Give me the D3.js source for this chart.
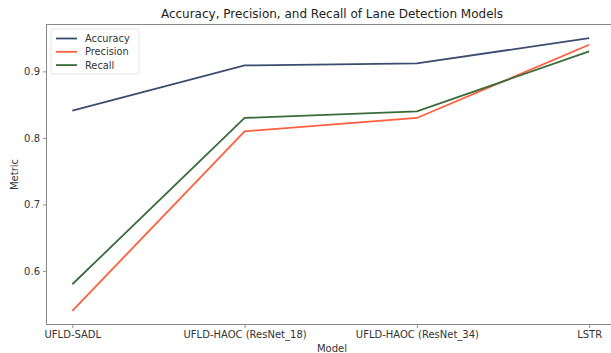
<!DOCTYPE html>
<html><head><meta charset="utf-8">
<script src="https://cdn.jsdelivr.net/npm/d3@7"></script>
<style>body{margin:0;background:#fff;}svg{display:block;font-family:"DejaVu Sans",sans-serif;}</style>
</head><body><svg id="c" width="611" height="353"></svg>
<script>
const models = ["UFLD-SADL", "UFLD-HAOC (ResNet_18)", "UFLD-HAOC (ResNet_34)", "LSTR"];
const accuracy = [0.841, 0.909, 0.912, 0.950];
const precision = [0.54, 0.81, 0.83, 0.94];
const recall = [0.58, 0.83, 0.84, 0.93];
const yTicks = [0.6, 0.7, 0.8, 0.9];
const seriesNames = ["Accuracy", "Precision", "Recall"];
const seriesColors = ["#3b4d6e", "#ff5f3f", "#3a6b3a"];
const seriesData = [accuracy, precision, recall];

const svg = d3.select("#c");
const L = 46.5, R = 615, T = 24.5, B = 324.5;
const m = 0.05 * (R - L) / 1.1;
const x = d3.scalePoint().domain(models).range([L + m, R - m]).padding(0);
const all = [].concat(accuracy, precision, recall);
const mn = d3.min(all), mx = d3.max(all), pad = (mx - mn) * 0.05;
const y = d3.scaleLinear().domain([mn - pad, mx + pad]).range([B, T]);

const xa = svg.append("g").attr("transform", `translate(0,${B})`)
  .call(d3.axisBottom(x).tickSize(3.5).tickPadding(3));
const ya = svg.append("g").attr("transform", `translate(${L},0)`)
  .call(d3.axisLeft(y).tickValues(yTicks).tickFormat(d3.format(".1f")).tickSize(3.5).tickPadding(3));
[xa, ya].forEach(a => {
  a.select(".domain").remove();
  a.selectAll("line").attr("stroke", "#777").attr("stroke-width", 0.8);
  a.selectAll("text").attr("fill", "#333").style("font-size", "10px").style("font-family", "DejaVu Sans");
});

svg.append("rect").attr("x", L).attr("y", T).attr("width", R - L).attr("height", B - T)
  .attr("fill", "none").attr("stroke", "#888").attr("stroke-width", 1);

const line = d3.line().x((d, i) => x(models[i])).y(d => y(d));
seriesData.forEach((s, k) => {
  svg.append("path").datum(s).attr("d", line).attr("fill", "none")
    .attr("stroke", seriesColors[k]).attr("stroke-width", 1.8);
});

svg.append("text").attr("x", 332).attr("y", 18).attr("text-anchor", "middle")
  .style("font-size", "12px").attr("fill", "#222").text("Accuracy, Precision, and Recall of Lane Detection Models");
svg.append("text").attr("x", 332).attr("y", 352).attr("text-anchor", "middle")
  .style("font-size", "10px").attr("fill", "#333").text("Model");
svg.append("text").attr("transform", `translate(18,${(T + B) / 2}) rotate(-90)`).attr("text-anchor", "middle")
  .style("font-size", "10px").attr("fill", "#333").text("Metric");

const lg = svg.append("g");
lg.append("rect").attr("x", 51).attr("y", 29).attr("width", 88).attr("height", 45)
  .attr("rx", 2).attr("fill", "#fff").attr("stroke", "#ddd").attr("stroke-width", 0.8);
seriesNames.forEach((n, k) => {
  const yy = 38.5 + k * 13.3;
  lg.append("line").attr("x1", 56).attr("x2", 77).attr("y1", yy).attr("y2", yy)
    .attr("stroke", seriesColors[k]).attr("stroke-width", 1.8);
  lg.append("text").attr("x", 85).attr("y", yy + 3.5).style("font-size", "9.8px").attr("fill", "#333").text(n);
});
</script></body></html>
